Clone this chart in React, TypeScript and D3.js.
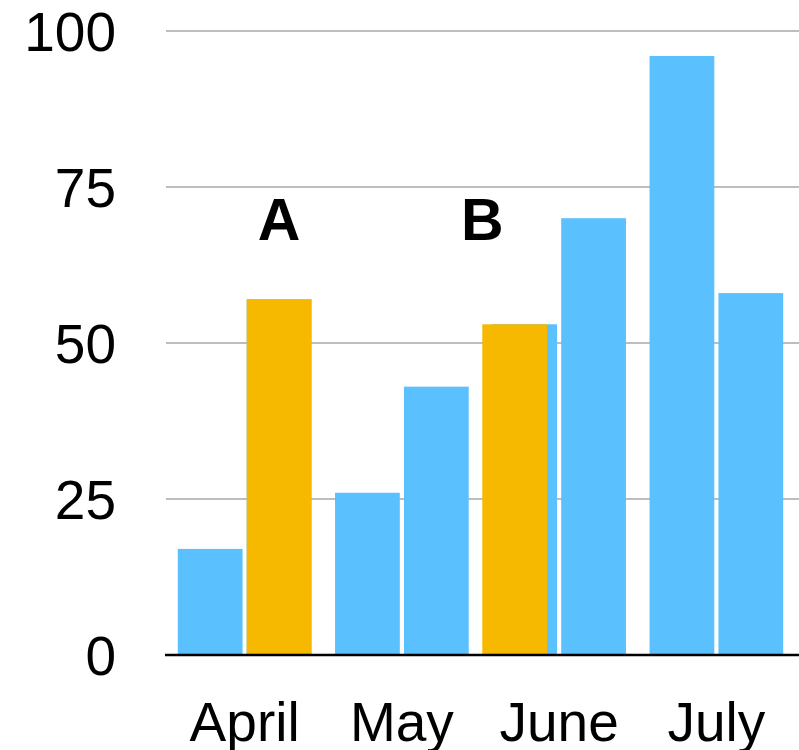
import { scaleBand, scaleLinear } from "d3";

const months = ["April", "May", "June", "July"];
const firstBar = [17, 26, 53, 96];
const secondBar = [57, 43, 70, 58];
const yTicks = [0, 25, 50, 75, 100];

// highlighted bars drawn in orange with a letter above
const highlightMonths = ["April", "June"];
const highlightSlot = [1, 0];
const highlightLabels = ["A", "B"];

const W = 799;
const H = 750;

export default function App() {
  const x0 = scaleBand<string>()
    .domain(months)
    .range([166, 795])
    .paddingInner(0.15)
    .paddingOuter(0.075);

  const x1 = scaleBand<number>()
    .domain([0, 1])
    .range([0, x0.bandwidth()])
    .paddingInner(0.06);

  const y = scaleLinear().domain([0, 100]).range([655, 31]);

  const rows = months.map((m, i) => ({ month: m, values: [firstBar[i], secondBar[i]] }));

  const font = "'Liberation Sans', Arial, Helvetica, sans-serif";
  const blue = "#5ac0fe";
  const orange = "#f6b900";

  return (
    <div style={{ position: "absolute", left: 0, top: 0 }}>
      <svg width={W} height={H} style={{ display: "block", background: "#fff" }}>
        {/* grid */}
        {yTicks.filter((t) => t > 0).map((t) => (
          <line key={t} x1={166} x2={W} y1={y(t)} y2={y(t)} stroke="#bdbdbd" strokeWidth={2} />
        ))}

        {/* y tick labels */}
        {yTicks.map((t) => (
          <text
            key={t}
            x={116}
            y={y(t)}
            dy="0.36em"
            textAnchor="end"
            fontFamily={font}
            fontSize={55}
            fill="#000"
          >
            {t}
          </text>
        ))}

        {/* bars */}
        {rows.map((r) =>
          r.values.map((v, j) => (
            <rect
              key={r.month + j}
              x={(x0(r.month) ?? 0) + (x1(j) ?? 0)}
              y={y(v)}
              width={x1.bandwidth()}
              height={y(0) - y(v)}
              fill={blue}
            />
          ))
        )}

        {/* highlights */}
        {highlightMonths.map((m, k) => {
          const i = months.indexOf(m);
          const j = highlightSlot[k];
          const v = rows[i].values[j];
          const shift = k === 1 ? -10 : 0;
          const bx = (x0(m) ?? 0) + (x1(j) ?? 0) + shift;
          const lx = k === 1 ? bx : bx + x1.bandwidth() / 2;
          return (
            <g key={m}>
              <rect x={bx} y={y(v)} width={x1.bandwidth()} height={y(0) - y(v)} fill={orange} />
              <text
                x={lx}
                y={240}
                textAnchor="middle"
                fontFamily={font}
                fontWeight="bold"
                fontSize={59}
                fill="#000"
              >
                {highlightLabels[k]}
              </text>
            </g>
          );
        })}

        {/* baseline */}
        <line x1={165} x2={W} y1={y(0)} y2={y(0)} stroke="#000" strokeWidth={2.5} />

        {/* x labels */}
        {months.map((m) => (
          <text
            key={m}
            x={(x0(m) ?? 0) + x0.bandwidth() / 2}
            y={741}
            textAnchor="middle"
            fontFamily={font}
            fontSize={55}
            fill="#000"
          >
            {m}
          </text>
        ))}
      </svg>
    </div>
  );
}
